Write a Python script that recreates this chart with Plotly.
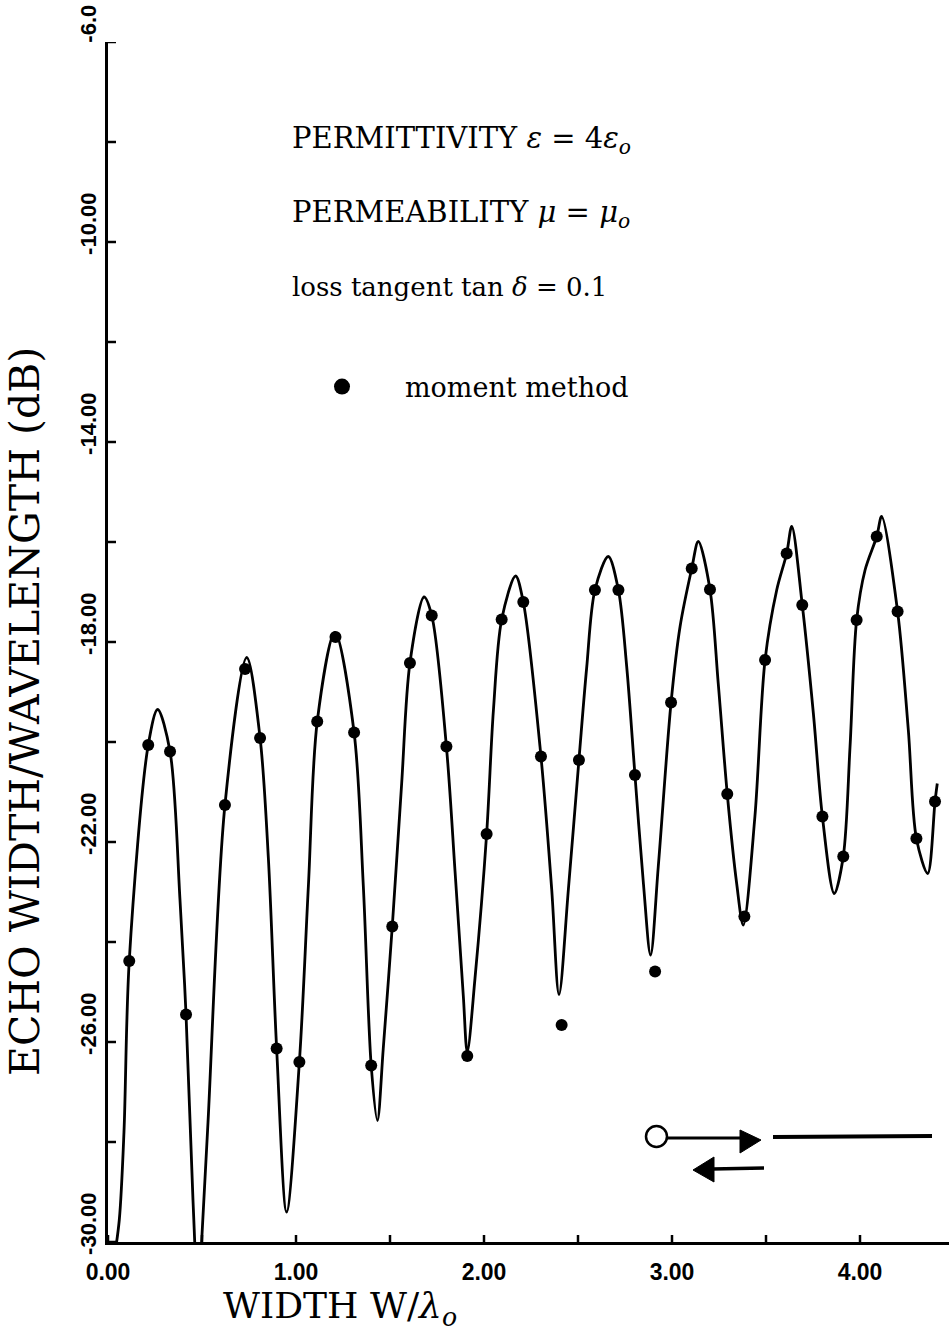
import plotly.graph_objects as go

# Echo width of a lossy dielectric strip versus its width (solid curve)
curve_w = [0.030, 0.060, 0.085, 0.113, 0.214, 0.264, 0.330, 0.383,
           0.415, 0.452, 0.480, 0.498, 0.532, 0.622, 0.738, 0.809, 0.853,
           0.897, 0.950, 1.018, 1.066, 1.113, 1.207,
           1.309, 1.358, 1.400, 1.433, 1.464, 1.512, 1.562, 1.606, 1.681,
           1.722, 1.800, 1.846, 1.890, 1.911, 1.952, 2.014, 2.050, 2.094,
           2.168, 2.209, 2.303, 2.360, 2.399, 2.449, 2.505, 2.546, 2.590,
           2.661, 2.715, 2.759, 2.803, 2.848, 2.886, 2.927, 2.995, 3.043, 3.105,
           3.140, 3.202, 3.246, 3.294, 3.344, 3.379, 3.441, 3.495, 3.557, 3.610,
           3.637, 3.693, 3.752, 3.800, 3.863, 3.911, 3.947, 3.982, 4.027, 4.089,
           4.115, 4.200, 4.257, 4.300, 4.360, 4.399, 4.411]
curve_db = [-30.4, -29.56, -27.8, -24.38, -20.06, -19.35, -20.19, -23.16,
            -25.45, -29.16, -31.2, -30.0, -27.6, -21.26, -18.31, -19.92, -22.32,
            -26.13, -29.4, -26.4, -22.87, -19.59, -17.81,
            -19.81, -22.87, -26.47, -27.57, -26.14, -23.69, -20.83, -18.42, -17.1,
            -17.47, -20.09, -22.59, -25.08, -26.2, -24.73, -21.84, -19.37, -17.55,
            -16.68, -17.2, -20.29, -22.94, -25.05, -22.94, -20.36, -18.52, -16.96,
            -16.29, -16.96, -18.49, -20.66, -22.83, -24.26, -22.49, -19.21, -17.69, -16.53,
            -15.99, -16.95, -18.83, -21.04, -22.83, -23.66, -21.49, -18.36, -16.96, -16.23,
            -15.69, -17.26, -19.43, -21.49, -23.03, -22.29, -20.09, -17.56, -16.56, -15.89,
            -15.49, -17.39, -19.76, -21.93, -22.63, -21.19, -20.83]

# Moment-method solution
mm_w = [0.113, 0.214, 0.330, 0.415, 0.622, 0.729, 0.809, 0.897, 1.018, 1.113,
        1.210, 1.309, 1.400, 1.512, 1.606, 1.722, 1.800, 1.911, 2.014, 2.094,
        2.209, 2.303, 2.413, 2.505, 2.590, 2.715, 2.803, 2.910, 2.995, 3.105,
        3.202, 3.294, 3.385, 3.495, 3.610, 3.693, 3.800, 3.911, 3.982, 4.089,
        4.200, 4.300, 4.399]
mm_db = [-24.38, -20.06, -20.19, -25.45, -21.26, -18.54, -19.92, -26.13, -26.4, -19.59,
         -17.9, -19.81, -26.47, -23.69, -18.42, -17.47, -20.09, -26.28, -21.84, -17.55,
         -17.2, -20.29, -25.66, -20.36, -16.96, -16.96, -20.66, -24.59, -19.21, -16.53,
         -16.95, -21.04, -23.49, -18.36, -16.23, -17.26, -21.49, -22.29, -17.56, -15.89,
         -17.39, -21.93, -21.19]

# Axes
x_tick_pos = [0.0, 0.5, 1.0, 1.5, 2.0, 2.5, 3.0, 3.5, 4.0]
x_label_pos = [0.0, 1.0, 2.0, 3.0, 4.0]
x_labels = ["0.00", "1.00", "2.00", "3.00", "4.00"]
y_tick_pos = [-30, -28, -26, -24, -22, -20, -18, -16, -14, -12, -10, -8, -6]
y_label_pos = [-30, -26, -22, -18, -14, -10, -6]
y_labels = ["-30.00", "-26.00", "-22.00", "-18.00", "-14.00", "-10.00", "-6.0"]

W, H = 949, 1341
ML, MR, MT, MB = 108, 0, 42, 99
PW, PH = W - ML - MR, H - MT - MB

SERIF = "DejaVu Serif, Liberation Serif, serif"
TICKFONT = "Liberation Sans, Arial, sans-serif"


def px(xp):
    return (xp - ML) / PW


def py(yp):
    return (H - MB - yp) / PH


fig = go.Figure()
fig.add_trace(go.Scatter(
    x=curve_w, y=curve_db, mode="lines",
    line=dict(color="black", width=2.8, shape="spline", smoothing=0.9),
    showlegend=False, hoverinfo="skip",
))
fig.add_trace(go.Scatter(
    x=mm_w, y=mm_db, mode="markers", name="moment method",
    marker=dict(color="black", size=12, symbol="circle"),
    legendgroup="mm", showlegend=False,
))
# legend key for the moment-method points (larger symbol)
fig.add_trace(go.Scatter(
    x=[None], y=[None], mode="markers", name="moment method",
    marker=dict(color="black", size=18, symbol="circle"),
    legendgroup="mm", showlegend=True,
))

shapes = []
# tick marks crossing the axis lines
for t in x_tick_pos:
    shapes.append(dict(type="line", xref="x", yref="y", x0=t, x1=t,
                       ysizemode="pixel", yanchor=-30, y0=-9, y1=7,
                       line=dict(color="black", width=2.5)))
for t in y_tick_pos:
    shapes.append(dict(type="line", xref="x", yref="y", y0=t, y1=t,
                       xsizemode="pixel", xanchor=0, x0=-8, x1=8,
                       line=dict(color="black", width=2.5)))

# incident / scattered wave sketch
shapes.append(dict(type="circle", xref="paper", yref="paper",
                   x0=px(646), x1=px(667), y0=py(1147), y1=py(1126),
                   line=dict(color="black", width=2.5)))
shapes.append(dict(type="line", xref="paper", yref="paper",
                   x0=px(667), x1=px(742), y0=py(1138), y1=py(1138),
                   line=dict(color="black", width=3)))
shapes.append(dict(type="path", xref="paper", yref="paper",
                   path=f"M {px(740)},{py(1130)} L {px(761)},{py(1140)} L {px(740)},{py(1153)} Z",
                   fillcolor="black", line=dict(color="black", width=1)))
shapes.append(dict(type="line", xref="paper", yref="paper",
                   x0=px(773), x1=px(932), y0=py(1137), y1=py(1136),
                   line=dict(color="black", width=4)))
shapes.append(dict(type="line", xref="paper", yref="paper",
                   x0=px(712), x1=px(764), y0=py(1169), y1=py(1168),
                   line=dict(color="black", width=3.5)))
shapes.append(dict(type="path", xref="paper", yref="paper",
                   path=f"M {px(714)},{py(1157)} L {px(693)},{py(1170)} L {px(714)},{py(1182)} Z",
                   fillcolor="black", line=dict(color="black", width=1)))

annotations = [
    dict(text="PERMITTIVITY <i>ε</i> = 4<i>ε</i><sub><i>o</i></sub>",
         x=px(290), y=py(140), xanchor="left", yanchor="middle",
         font=dict(family=SERIF, size=29, color="black")),
    dict(text="PERMEABILITY <i>μ</i> = <i>μ</i><sub><i>o</i></sub>",
         x=px(290), y=py(214), xanchor="left", yanchor="middle",
         font=dict(family=SERIF, size=29, color="black")),
    dict(text="loss tangent tan <i>δ</i> = 0.1",
         x=px(290), y=py(287), xanchor="left", yanchor="middle",
         font=dict(family=SERIF, size=26, color="black")),
    dict(text="ECHO WIDTH/WAVELENGTH (dB)", textangle=-90,
         x=px(25), y=py(712), xanchor="center", yanchor="middle",
         font=dict(family=SERIF, size=41, color="black")),
    dict(text="WIDTH W/<i>λ</i><sub><i>o</i></sub>",
         x=px(340), y=py(1308), xanchor="center", yanchor="middle",
         font=dict(family=SERIF, size=36, color="black")),
]
for a in annotations:
    a.update(xref="paper", yref="paper", showarrow=False)

fig.update_layout(
    width=W, height=H, autosize=False,
    margin=dict(l=ML, r=MR, t=MT, b=MB, pad=0),
    paper_bgcolor="white", plot_bgcolor="white",
    shapes=shapes, annotations=annotations,
    showlegend=True,
    legend=dict(x=px(279), y=py(387), xanchor="left", yanchor="middle",
                bgcolor="rgba(0,0,0,0)", itemwidth=116,
                font=dict(family=SERIF, size=27, color="black")),
    xaxis=dict(range=[0, PW / 188], showline=True, linecolor="black", linewidth=2.5,
               showgrid=False, zeroline=False, ticks="",
               tickvals=x_label_pos, ticktext=x_labels, ticklabelstandoff=8,
               tickfont=dict(family=TICKFONT, size=23, color="black", weight="bold")),
    yaxis=dict(range=[-30, -6], showline=True, linecolor="black", linewidth=2.5,
               showgrid=False, zeroline=False, ticks="",
               tickvals=y_label_pos, ticktext=y_labels, tickangle=-90,
               ticklabelshift=-15, ticklabelstandoff=0,
               tickfont=dict(family=TICKFONT, size=22, color="black", weight="bold")),
)

fig.write_html("out.html")
